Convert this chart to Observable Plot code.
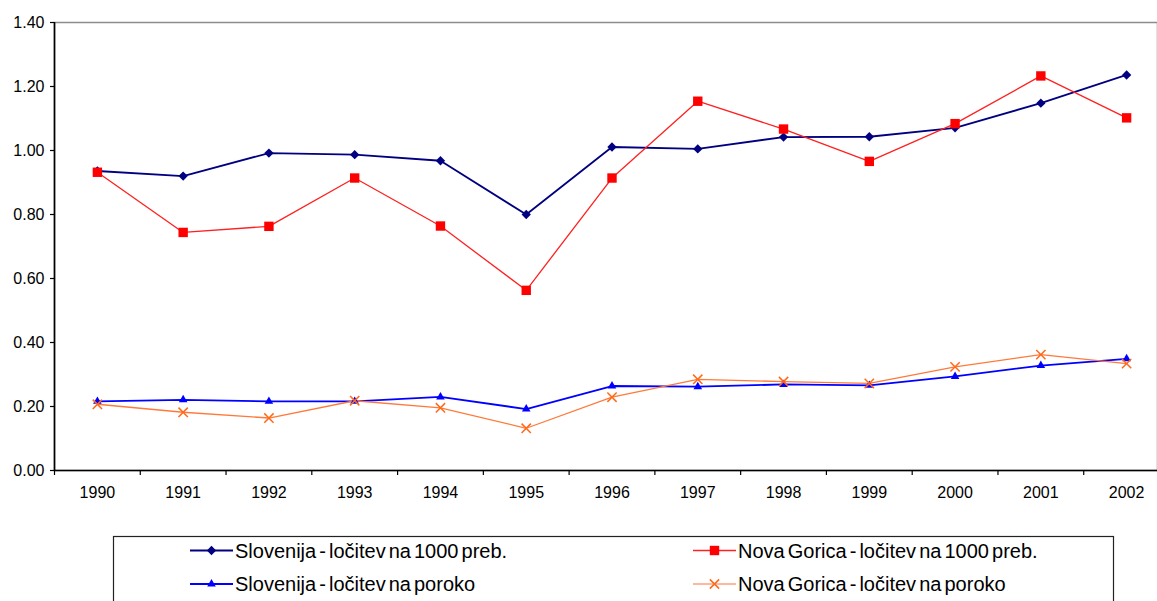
<!DOCTYPE html>
<html>
<head>
<meta charset="utf-8">
<script src="https://cdn.jsdelivr.net/npm/d3@7"></script>
<script src="https://cdn.jsdelivr.net/npm/@observablehq/plot@0.6"></script>
<style>
  html, body { margin: 0; padding: 0; background: #fff; overflow: hidden; width: 1157px; height: 601px; }
  #chart svg, #legend svg { display: block; }
</style>
</head>
<body>
<div id="chart"></div>
<div id="legend"></div>
<script>
// ---- data ----
const years = [1990, 1991, 1992, 1993, 1994, 1995, 1996, 1997, 1998, 1999, 2000, 2001, 2002];
const sloPer1000 = [0.936, 0.920, 0.992, 0.987, 0.968, 0.800, 1.011, 1.005, 1.042, 1.043, 1.071, 1.148, 1.236];
const ngPer1000 = [0.932, 0.744, 0.763, 0.914, 0.764, 0.563, 0.914, 1.154, 1.067, 0.966, 1.084, 1.233, 1.102];
const sloPerMarriage = [0.216, 0.221, 0.216, 0.216, 0.230, 0.192, 0.264, 0.262, 0.269, 0.266, 0.294, 0.328, 0.349];
const ngPerMarriage = [0.207, 0.182, 0.164, 0.218, 0.196, 0.132, 0.229, 0.285, 0.278, 0.272, 0.324, 0.362, 0.334];
const seriesNames = [
  "Slovenija - ločitev na 1000 preb.",
  "Nova Gorica - ločitev na 1000 preb.",
  "Slovenija - ločitev na poroko",
  "Nova Gorica - ločitev na poroko"
];
const yTicks = [0, 0.2, 0.4, 0.6, 0.8, 1.0, 1.2, 1.4];

// ---- styles per series ----
const styles = [
  {stroke: "#000080", fill: "#000080", symbol: "diamond2", r: 4.2, width: 1.8, line: "#000080"},
  {stroke: "#ff0000", fill: "#ff0000", symbol: "square", r: 5.3, width: 1.3, line: "#ff2020"},
  {stroke: "#0000ff", fill: "#0000ff", symbol: "triangle2", r: 4.1, width: 1.8, line: "#0000ff"},
  {stroke: "#ff6a1a", fill: "none", symbol: "times", r: 4.3, width: 1.3, line: "#ff7a3a"}
];
const valueSets = [sloPer1000, ngPer1000, sloPerMarriage, ngPerMarriage];
const rows = valueSets.map((vals, s) => years.map((y, i) => ({year: y, value: vals[i], series: seriesNames[s]})));

const bandEdges = d3.range(years[0] - 0.5, years[years.length - 1] + 1, 1);

const marks = [
  Plot.frame({stroke: "#8c8c8c", strokeWidth: 1.5}),
  Plot.axisY({ticks: yTicks, tickFormat: d => d.toFixed(2), tickSize: 4, tickPadding: 6, label: null,
    fontSize: 16, stroke: "#000", fill: "#000", strokeWidth: 1.2, letterSpacing: 0.8}),
  Plot.axisX({ticks: years, tickSize: 0, tickPadding: 16, fontSize: 16, fill: "#000", label: null,
    letterSpacing: -0.3, tickFormat: d => String(d)}),
  Plot.axisX({ticks: bandEdges, tickSize: 5, stroke: "#000", strokeWidth: 1.2, label: null, tickFormat: () => ""}),
  Plot.ruleY([0], {stroke: "#000", strokeWidth: 1.6}),
  Plot.ruleX([bandEdges[0]], {stroke: "#000", strokeWidth: 1.6})
];
rows.forEach((data, s) => {
  const st = styles[s];
  marks.push(Plot.line(data, {x: "year", y: "value", stroke: st.line, strokeWidth: st.width}));
});
rows.forEach((data, s) => {
  const st = styles[s];
  marks.push(Plot.dot(data, {x: "year", y: "value", symbol: () => st.symbol, r: st.r,
    fill: st.fill, stroke: st.fill === "none" ? st.stroke : "none", strokeWidth: 1.5}));
});

const chart = Plot.plot({
  width: 1157,
  height: 528,
  marginTop: 22,
  marginBottom: 58,
  marginLeft: 54,
  marginRight: 0,
  style: {fontFamily: "'Liberation Sans', Arial, sans-serif", overflow: "hidden", background: "#fff"},
  x: {type: "linear", domain: [bandEdges[0], bandEdges[bandEdges.length - 1]], range: [54, 1169], label: null},
  y: {domain: [0, 1.4], label: null},
  symbol: {type: "identity"},
  marks
});
document.getElementById("chart").appendChild(chart);

// ---- legend (below the chart svg) ----
const lw = 1157, lh = 73;
const lsvg = d3.create("svg").attr("width", lw).attr("height", lh)
  .style("font-family", "'Liberation Sans', Arial, sans-serif");
lsvg.append("rect").attr("x", 113.5).attr("y", 8.5).attr("width", 1000).attr("height", 120)
  .attr("fill", "none").attr("stroke", "#222").attr("stroke-width", 1.2);
const symMap = {diamond2: d3.symbolDiamond2, square: d3.symbolSquare, triangle2: d3.symbolTriangle2, times: d3.symbolTimes};
const legendPos = [
  {x: 190, y: 22.5}, {x: 693, y: 22.5},
  {x: 190, y: 56}, {x: 693, y: 56}
];
seriesNames.forEach((name, s) => {
  const st = styles[s], p = legendPos[s];
  const g = lsvg.append("g").attr("transform", `translate(${p.x},${p.y})`);
  g.append("line").attr("x1", 0).attr("x2", 43).attr("y1", 0).attr("y2", 0)
    .attr("stroke", s === 3 ? "#ffa080" : st.line).attr("stroke-width", st.width);
  g.append("path").attr("transform", "translate(21.5,0)")
    .attr("d", d3.symbol(symMap[st.symbol], Math.PI * st.r * st.r)())
    .attr("fill", st.fill).attr("stroke", st.fill === "none" ? st.stroke : "none").attr("stroke-width", 1.5);
  g.append("text").attr("x", 45).attr("y", 0).attr("dy", "0.35em")
    .attr("font-size", 20).attr("fill", "#000").attr("word-spacing", -2.5).text(name);
});
document.getElementById("legend").appendChild(lsvg.node());
</script>
</body>
</html>
